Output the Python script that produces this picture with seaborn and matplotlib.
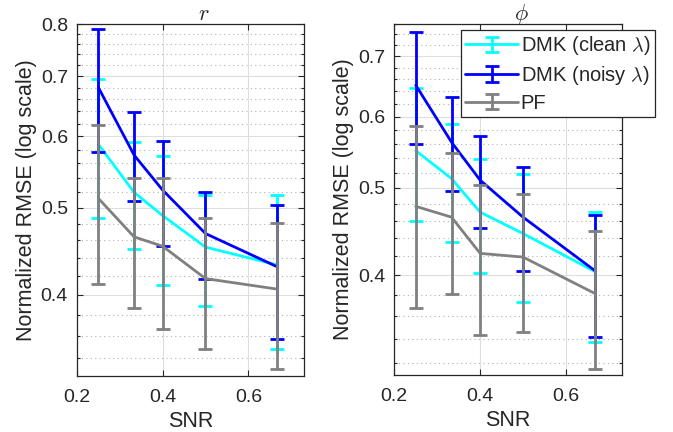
import numpy as np
import pandas as pd
import matplotlib
matplotlib.use("Agg")
import matplotlib.pyplot as plt
import seaborn as sns
from matplotlib.ticker import FixedLocator, NullFormatter, FormatStrFormatter
from matplotlib.lines import Line2D
from matplotlib.legend_handler import HandlerTuple, HandlerErrorbar
from matplotlib.container import ErrorbarContainer

# ---------------- data ----------------
snr = [0.25, 1/3, 0.4, 0.5, 2/3]
methods = ["DMK (clean $\\lambda$)", "DMK (noisy $\\lambda$)", "PF"]
colors = ["#00FFFF", "#0000FF", "#808080"]
panel_titles = ["$r$", "$\\phi$"]

# panel r
r_clean = [0.588, 0.520, 0.490, 0.452, 0.432]
r_clean_lo = [0.487, 0.450, 0.410, 0.389, 0.348]
r_clean_hi = [0.695, 0.592, 0.570, 0.516, 0.517]
r_noisy = [0.680, 0.572, 0.523, 0.468, 0.430]
r_noisy_lo = [0.576, 0.508, 0.453, 0.417, 0.357]
r_noisy_hi = [0.790, 0.638, 0.593, 0.520, 0.504]
r_pf = [0.512, 0.464, 0.453, 0.417, 0.406]
r_pf_lo = [0.411, 0.387, 0.367, 0.348, 0.331]
r_pf_hi = [0.618, 0.540, 0.539, 0.487, 0.481]

# panel phi
p_clean = [0.550, 0.512, 0.470, 0.445, 0.404]
p_clean_lo = [0.460, 0.435, 0.402, 0.374, 0.337]
p_clean_hi = [0.645, 0.589, 0.538, 0.518, 0.470]
p_noisy = [0.650, 0.562, 0.510, 0.464, 0.405]
p_noisy_lo = [0.559, 0.496, 0.451, 0.404, 0.342]
p_noisy_hi = [0.745, 0.631, 0.571, 0.528, 0.466]
p_pf = [0.477, 0.464, 0.423, 0.419, 0.382]
p_pf_lo = [0.368, 0.381, 0.343, 0.346, 0.315]
p_pf_hi = [0.586, 0.547, 0.504, 0.492, 0.448]

panels = [
    [(r_clean, r_clean_lo, r_clean_hi), (r_noisy, r_noisy_lo, r_noisy_hi), (r_pf, r_pf_lo, r_pf_hi)],
    [(p_clean, p_clean_lo, p_clean_hi), (p_noisy, p_noisy_lo, p_noisy_hi), (p_pf, p_pf_lo, p_pf_hi)],
]
ylims = [(0.325, 0.80), (0.31, 0.76)]
major_y = [[0.4, 0.5, 0.6, 0.7, 0.8], [0.4, 0.5, 0.6, 0.7]]
minor_y = [round(v, 2) for v in np.arange(0.30, 0.81, 0.02)]
x_ticks = [0.2, 0.4, 0.6]

# ---------------- style ----------------
sns.set_theme(style="white")
plt.rcParams["font.family"] = ["Liberation Sans", "DejaVu Sans"]
plt.rcParams["mathtext.fontset"] = "cm"
axcol = "#262626"

fig = plt.figure(figsize=(6.73, 4.32), dpi=100)
positions = [[0.1144, 0.1296, 0.3373, 0.8148], [0.5859, 0.1319, 0.3379, 0.8125]]

legend_handles = []
for pi, pos in enumerate(positions):
    ax = fig.add_axes(pos)
    rows = []
    for m, (mean, lo, hi) in zip(methods, panels[pi]):
        for x, v in zip(snr, mean):
            rows.append({"SNR": x, "RMSE": v, "method": m})
    df = pd.DataFrame(rows)
    for k, m in enumerate(methods):
        mean, lo, hi = panels[pi][k]
        sub = df[df["method"] == m]
        sns.lineplot(data=sub, x="SNR", y="RMSE", color=colors[k], lw=2,
                     ax=ax, legend=False, zorder=3 + 2 * k)
        yerr = [np.array(mean) - np.array(lo), np.array(hi) - np.array(mean)]
        ec = ax.errorbar(snr, mean, yerr=yerr, fmt="none", ecolor=colors[k],
                         elinewidth=2, capsize=5, capthick=2, zorder=4 + 2 * k)
        if pi == 1:
            legend_handles.append((Line2D([], [], color=colors[k], lw=2), ec))

    ax.set_yscale("log")
    ax.set_xlim(0.2, 0.73)
    ax.set_ylim(*ylims[pi])
    ax.yaxis.set_major_locator(FixedLocator(major_y[pi]))
    ax.yaxis.set_major_formatter(FormatStrFormatter("%.1f"))
    ax.yaxis.set_minor_locator(FixedLocator([v for v in minor_y if round(v * 10, 6) != round(v * 10)]))
    ax.yaxis.set_minor_formatter(NullFormatter())
    ax.xaxis.set_major_locator(FixedLocator(x_ticks))
    ax.xaxis.set_major_formatter(FormatStrFormatter("%.1f"))

    ax.grid(True, which="major", color="#dedede", lw=0.8, ls="-")
    ax.grid(True, which="minor", axis="y", color="#b0b0b0", lw=0.8, ls=(0, (1, 3)))
    ax.set_axisbelow(True)
    for s in ax.spines.values():
        s.set_color(axcol)
        s.set_linewidth(0.9)
        s.set_visible(True)
    ax.tick_params(which="both", direction="in", top=True, right=True,
                   bottom=True, left=True, colors=axcol, labelcolor="#262626")
    ax.tick_params(which="major", length=4, width=0.8, labelsize=14)
    ax.tick_params(axis="x", which="major", pad=9)
    ax.tick_params(axis="y", which="major", pad=6.5)
    ax.tick_params(which="minor", length=2.5, width=0.8)

    ax.set_xlabel("SNR", fontsize=15.5, color="#262626", labelpad=4)
    ax.set_ylabel("Normalized RMSE (log scale)", fontsize=15.5, color="#262626", labelpad=3)
    ax.text(0.56, 1 + 4 / 352, panel_titles[pi], transform=ax.transAxes,
            ha="center", va="baseline", fontsize=16, color="#262626")

    if pi == 1:
        leg = ax.legend(legend_handles, methods,
                        handler_map={tuple: HandlerTuple(ndivide=1, pad=0),
                                     ErrorbarContainer: HandlerErrorbar(xerr_size=0.5, yerr_size=0.38)},
                        loc="upper right", bbox_to_anchor=(655 / 673, 1 - 30 / 432),
                        bbox_transform=fig.transFigure, fontsize=14.5,
                        frameon=True, fancybox=False, framealpha=1,
                        edgecolor="#262626", handlelength=2.6, borderpad=0.22,
                        labelspacing=0.33, handletextpad=0.15, borderaxespad=0)
        leg.get_frame().set_linewidth(0.9)
        leg.set_zorder(20)

fig.savefig("out.png", dpi=100)
